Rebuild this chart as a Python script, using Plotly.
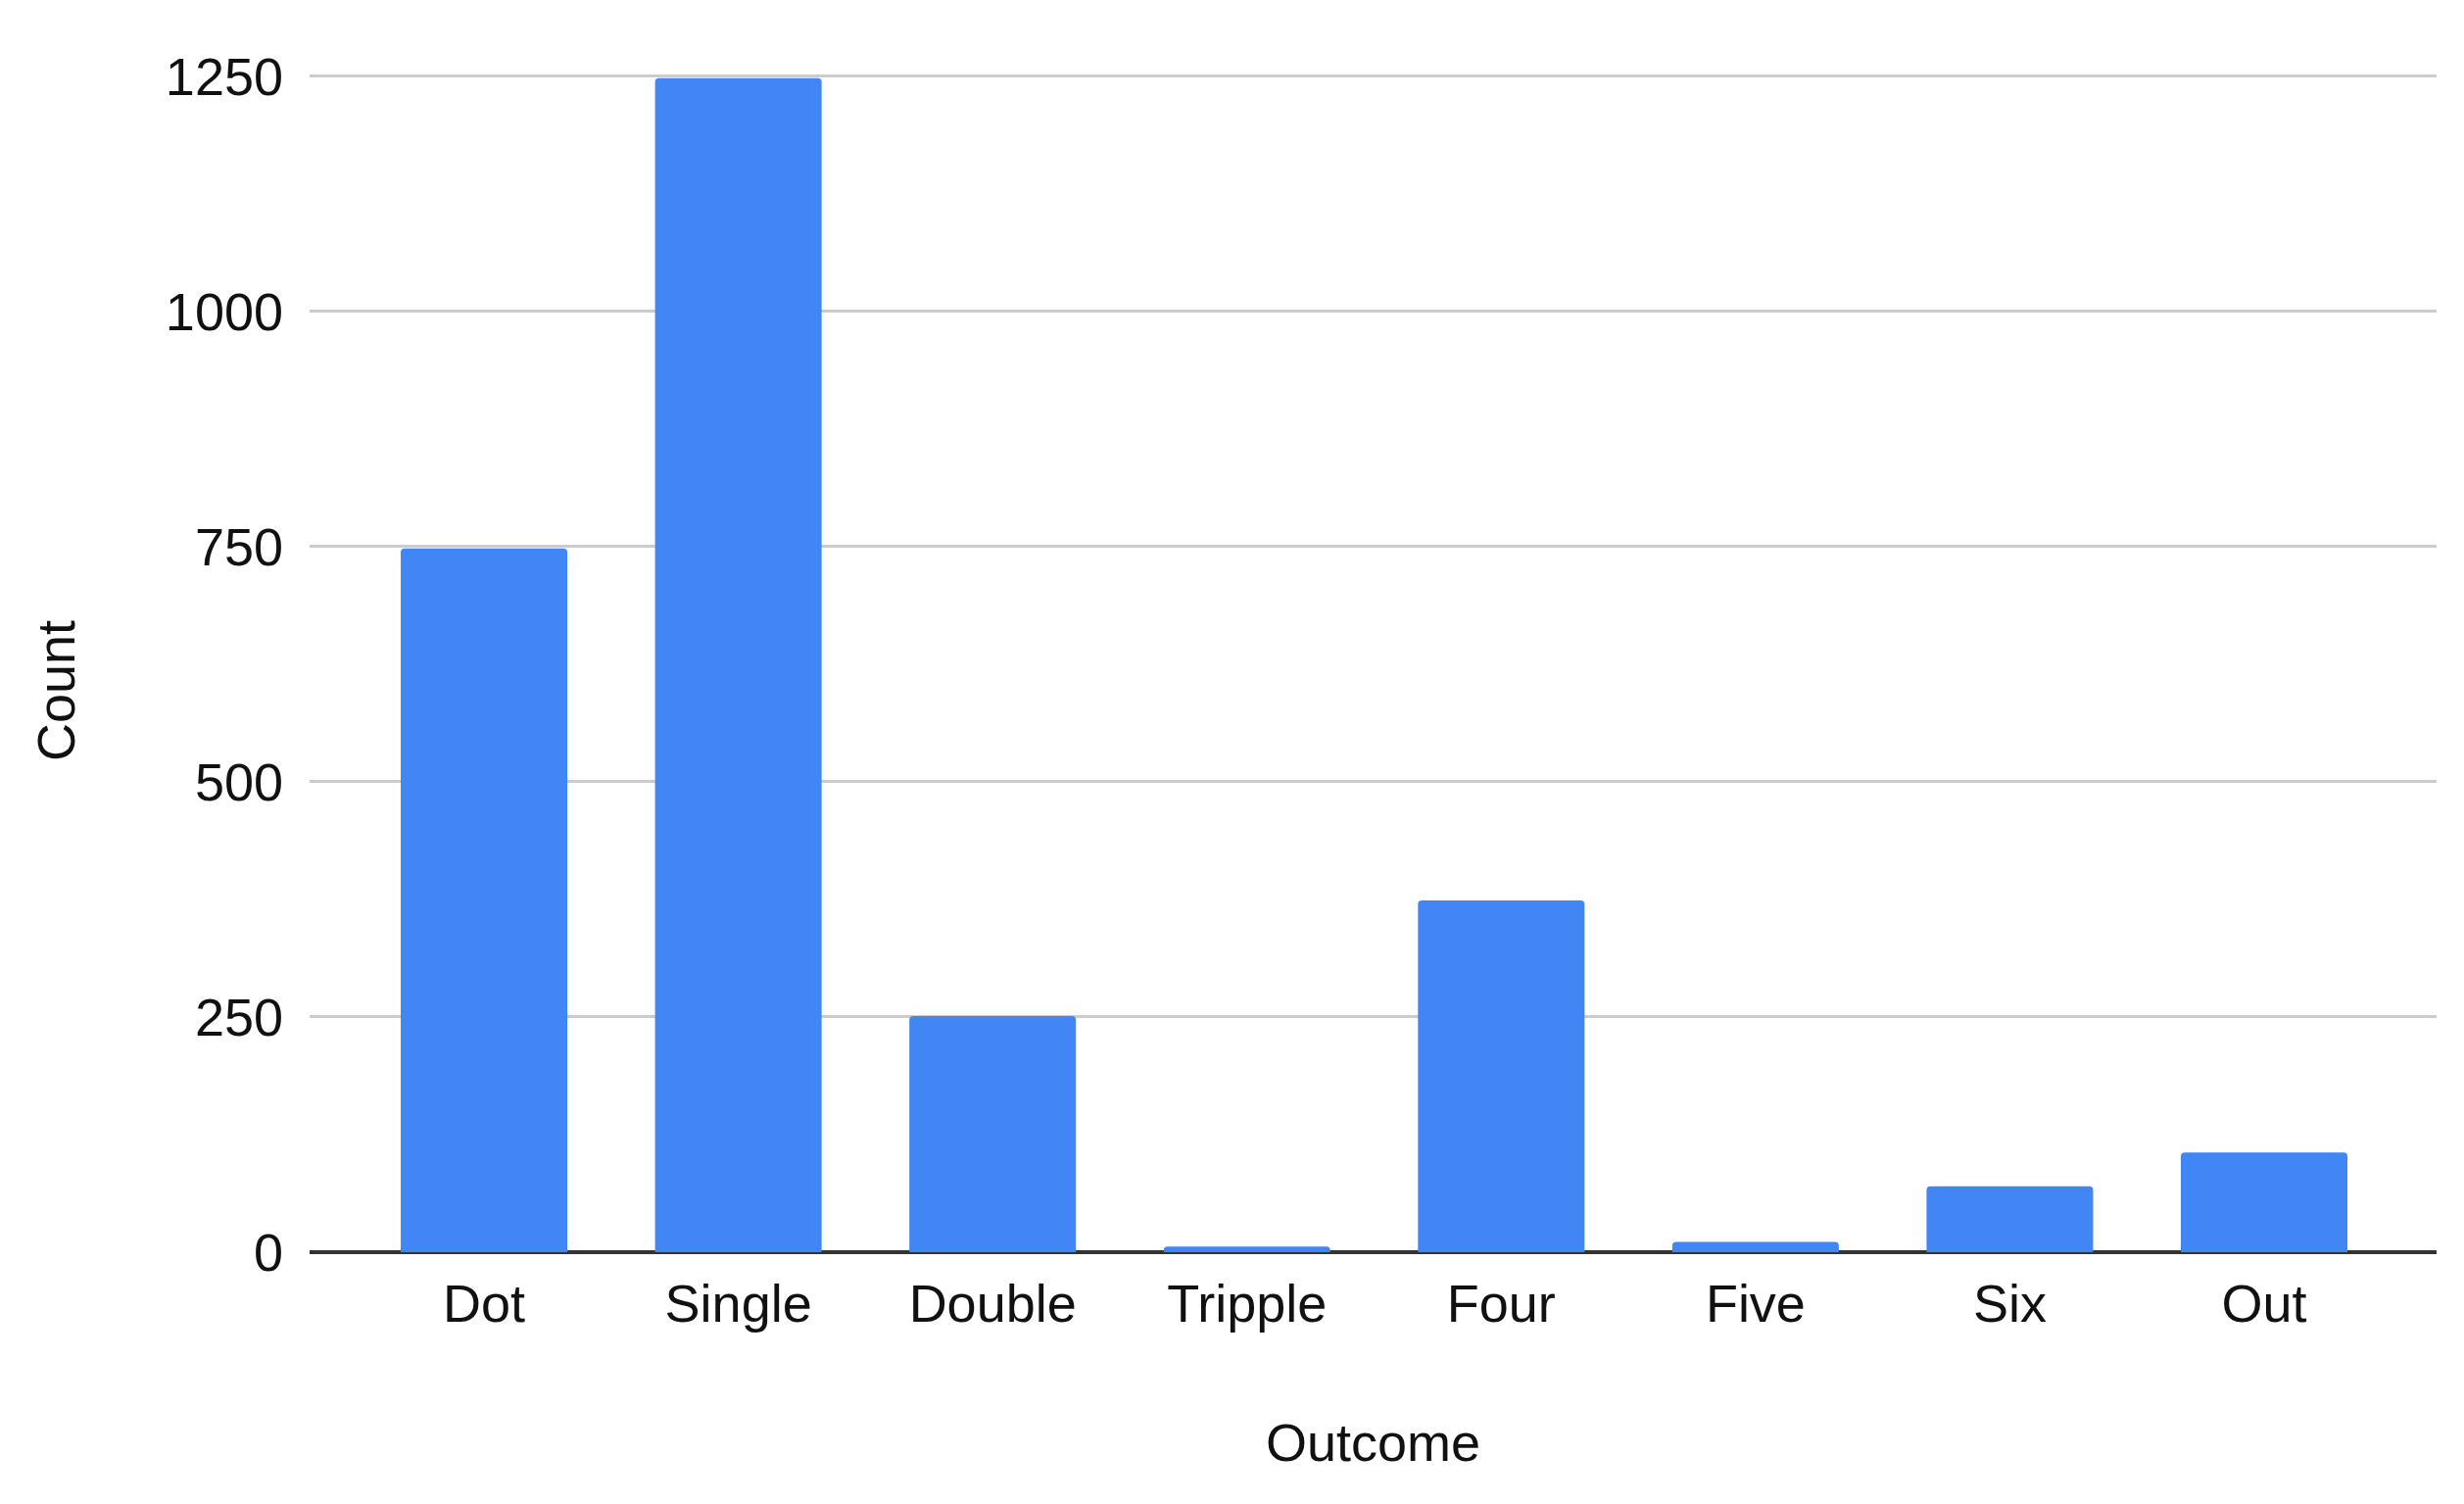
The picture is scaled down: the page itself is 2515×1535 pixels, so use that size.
import plotly.graph_objects as go

categories = ["Dot", "Single", "Double", "Tripple", "Four", "Five", "Six", "Out"]
counts = [748, 1248, 251, 6, 374, 11, 70, 106]
y_ticks = [0, 250, 500, 750, 1000, 1250]

FONT = "Liberation Sans, Arial, sans-serif"
TXT = "#111111"

# plot area (page coordinates, accounting for 8px body offset)
L, R, T, B = 308, 36, 68, 265
PW = 2515 - L - R
PH = 1535 - T - B

fig = go.Figure()
fig.add_trace(go.Bar(
    x=categories,
    y=counts,
    marker=dict(color="#4285F4", line=dict(width=0), cornerradius=4),
    width=0.655,
))

fig.update_layout(
    width=2515,
    height=1535,
    paper_bgcolor="white",
    plot_bgcolor="white",
    margin=dict(l=L, r=R, t=T, b=B, pad=0),
    showlegend=False,
    font=dict(family=FONT, size=54, color=TXT),
    xaxis=dict(
        type="category",
        range=[-0.686, 7.678],
        showgrid=False,
        showline=False,
        zeroline=False,
        ticks="",
        tickfont=dict(size=54, color=TXT),
        ticklabelstandoff=16,
    ),
    yaxis=dict(
        range=[0, 1252],
        tickvals=y_ticks,
        ticktext=[str(v) for v in y_ticks],
        showgrid=True,
        gridcolor="#cccccc",
        gridwidth=3,
        zeroline=True,
        zerolinecolor="#333333",
        zerolinewidth=4,
        showline=False,
        ticks="",
        tickfont=dict(size=54, color=TXT),
        ticklabelstandoff=26,
    ),
    annotations=[
        dict(
            text="Count", xref="paper", yref="paper",
            x=(49 - L) / PW, y=(1270 - 697) / PH,
            xanchor="center", yanchor="middle", textangle=-90,
            showarrow=False, font=dict(size=54, color=TXT, family=FONT),
        ),
        dict(
            text="Outcome", xref="paper", yref="paper",
            x=0.5, y=-(1464 - 1270) / PH,
            xanchor="center", yanchor="middle",
            showarrow=False, font=dict(size=54, color=TXT, family=FONT),
        ),
    ],
)

fig.write_html("out.html")
